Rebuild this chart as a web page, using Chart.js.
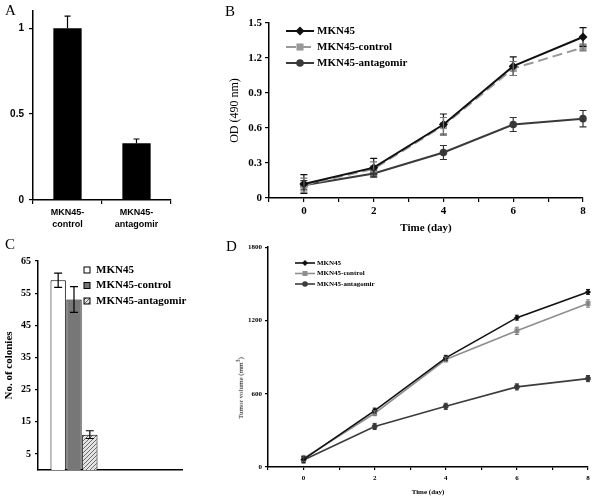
<!DOCTYPE html>
<html>
<head>
<meta charset="utf-8">
<script src="https://cdn.jsdelivr.net/npm/chart.js@4"></script>
<style>
  body { margin: 0; background: #fff; }
  #wrap { position: relative; width: 600px; height: 498px; background: #fff; }
  canvas { position: absolute; }
  .tag { position: absolute; font-family: "Liberation Serif"; font-size: 15px; color: #000; }
  #tumorTitle {
    position: absolute; left: 240px; top: 388px; font-family: "Liberation Serif"; font-size: 7px;
    transform: translate(-50%, -50%) rotate(-90deg); white-space: nowrap; color: #000;
  }
</style>
</head>
<body>
<div id="wrap">
  <canvas id="chartA" width="220" height="240" style="left:0;top:0"></canvas>
  <canvas id="chartB" width="380" height="240" style="left:220px;top:0"></canvas>
  <canvas id="chartC" width="220" height="258" style="left:0;top:240px"></canvas>
  <canvas id="chartD" width="360" height="258" style="left:240px;top:240px"></canvas>
  <div class="tag" style="left:5px;top:2px">A</div>
  <div class="tag" style="left:225px;top:3px">B</div>
  <div class="tag" style="left:5px;top:236px">C</div>
  <div class="tag" style="left:226px;top:238px">D</div>
  <div id="tumorTitle">Tumor volume (mm<sup>3</sup>)</div>
</div>
<script>
// panel A - relative expression
const exprLabels = [["MKN45-", "control"], ["MKN45-", "antagomir"]];
const exprValues = [1.0, 0.33];
const exprErrors = [0.07, 0.025];
const exprTicks = [0, 0.5, 1];

// panel B - MTT assay
const seriesNames = ["MKN45", "MKN45-control", "MKN45-antagomir"];
const days = [0, 2, 4, 6, 8];
const odMKN45 = [0.12, 0.26, 0.63, 1.13, 1.38];
const odControl = [0.11, 0.25, 0.62, 1.11, 1.29];
const odAntagomir = [0.11, 0.21, 0.39, 0.63, 0.68];
const odErrMKN45 = [0.08, 0.08, 0.09, 0.08, 0.08];
const odErrControl = [0.06, 0.06, 0.07, 0.06, 0.03];
const odErrAntagomir = [0.04, 0.03, 0.06, 0.06, 0.07];
const odTicks = [0, 0.3, 0.6, 0.9, 1.2, 1.5];

// panel C - colony formation
const colonies = [59, 53, 11];
const colonyErrors = [2.2, 4, 1.2];
const colonyTicks = [5, 15, 25, 35, 45, 55, 65];

// panel D - tumor volume
const tumorMKN45 = [62, 462, 894, 1223, 1434];
const tumorControl = [70, 440, 880, 1115, 1339];
const tumorAntagomir = [57, 332, 497, 656, 724];
const tumorErrMKN45 = [25, 20, 20, 20, 20];
const tumorErrControl = [25, 20, 20, 30, 30];
const tumorErrAntagomir = [25, 25, 25, 25, 25];
const tumorTicks = [0, 600, 1200, 1800];

Chart.defaults.font.family = "Liberation Serif";
Chart.defaults.color = "#000";

const pts = vals => days.map((d, i) => ({ x: d, y: vals[i] }));
const fixTicks = list => scale => { scale.ticks = list.map(v => ({ value: v })); };
const dayLabel = v => (v >= 0 && v % 2 === 0) ? String(v) : "";
const plainLabel = v => String(v);

function axisGrid(len) {
    return { display: true, drawOnChartArea: false, drawTicks: true, tickLength: len, color: "#000", lineWidth: 1.2 };
}
const axisBorder = { display: true, color: "#000", width: 1.5 };

function drawMarker(ctx, style, x, y, r, fill) {
    ctx.fillStyle = fill;
    ctx.beginPath();
    if (style === "rectRot") {
        ctx.moveTo(x, y - r); ctx.lineTo(x + r, y); ctx.lineTo(x, y + r); ctx.lineTo(x - r, y);
        ctx.closePath();
    } else if (style === "rect") {
        const s = r * Math.SQRT1_2;
        ctx.rect(x - s, y - s, 2 * s, 2 * s);
    } else {
        ctx.arc(x, y, r, 0, Math.PI * 2);
    }
    ctx.fill();
}

// error bars through the y scale
const errorBars = {
    id: "errorBars",
    afterDatasetsDraw(chart, args, opts) {
        const {ctx} = chart;
        const yScale = chart.scales.y;
        chart.data.datasets.forEach((ds, i) => {
            if (!ds.errors) return;
            const meta = chart.getDatasetMeta(i);
            ctx.save();
            ctx.strokeStyle = ds.errorColor || "#000";
            ctx.lineWidth = opts.width || 1.2;
            meta.data.forEach((el, j) => {
                const raw = ds.data[j];
                if (raw == null) return;
                const v = typeof raw === "object" ? raw.y : raw;
                const e = ds.errors[j];
                const top = yScale.getPixelForValue(v + e);
                const bot = opts.upOnly ? yScale.getPixelForValue(v) : yScale.getPixelForValue(v - e);
                const c = opts.cap || 3;
                ctx.beginPath();
                ctx.moveTo(el.x, top); ctx.lineTo(el.x, bot);
                ctx.moveTo(el.x - c, top); ctx.lineTo(el.x + c, top);
                if (!opts.upOnly) { ctx.moveTo(el.x - c, bot); ctx.lineTo(el.x + c, bot); }
                ctx.stroke();
            });
            ctx.restore();
        });
    }
};

// legend drawn inside the plot
const innerLegend = {
    id: "innerLegend",
    afterDraw(chart, args, opts) {
        const {ctx} = chart;
        ctx.save();
        ctx.font = "bold " + opts.size + "px 'Liberation Serif'";
        ctx.textBaseline = "middle";
        chart.data.datasets.forEach((ds, i) => {
            const y = opts.y + i * opts.dy;
            if (opts.kind === "box") {
                const s = opts.box;
                ctx.fillStyle = ds.backgroundColor;
                ctx.fillRect(opts.x, y - s / 2, s, s);
                ctx.strokeStyle = "#000";
                ctx.lineWidth = 1;
                ctx.strokeRect(opts.x, y - s / 2, s, s);
                ctx.fillStyle = "#000";
                ctx.fillText(ds.label, opts.x + s + opts.gap, y);
            } else {
                ctx.strokeStyle = ds.borderColor;
                ctx.lineWidth = ds.borderWidth;
                ctx.setLineDash(ds.borderDash || []);
                ctx.beginPath();
                ctx.moveTo(opts.x, y); ctx.lineTo(opts.x + opts.len, y);
                ctx.stroke();
                ctx.setLineDash([]);
                drawMarker(ctx, ds.pointStyle, opts.x + opts.len / 2, y, ds.pointRadius, ds.borderColor);
                ctx.fillStyle = "#000";
                ctx.fillText(ds.label, opts.x + opts.len + opts.gap, y);
            }
        });
        ctx.restore();
    }
};

function hatchPattern() {
    const c = document.createElement("canvas");
    c.width = 4; c.height = 4;
    const g = c.getContext("2d");
    g.fillStyle = "#e4e4e4";
    g.fillRect(0, 0, 4, 4);
    g.strokeStyle = "#6a6a6a";
    g.lineWidth = 1;
    g.beginPath();
    g.moveTo(0, 4); g.lineTo(4, 0);
    g.moveTo(-1, 1); g.lineTo(1, -1);
    g.moveTo(3, 5); g.lineTo(5, 3);
    g.stroke();
    return g.createPattern(c, "repeat");
}

// ---------- A
new Chart("chartA", {
    type: "bar",
    data: {
        labels: exprLabels,
        datasets: [{
            data: exprValues,
            errors: exprErrors,
            backgroundColor: "#000",
            barPercentage: 0.41,
            categoryPercentage: 1
        }]
    },
    options: {
        responsive: false,
        animation: false,
        layout: { padding: { top: 6, right: 49, left: 0, bottom: 0 } },
        plugins: {
            legend: { display: false },
            tooltip: { enabled: false },
            errorBars: { upOnly: true, cap: 3 }
        },
        scales: {
            x: {
                grid: axisGrid(4),
                border: axisBorder,
                ticks: { font: { family: "Liberation Sans", weight: "bold", size: 9, lineHeight: 1.3 }, padding: 3, maxRotation: 0 },
                afterFit: s => { s.height = 40; }
            },
            y: {
                min: 0, max: 1.1,
                grid: axisGrid(4),
                border: axisBorder,
                afterBuildTicks: fixTicks(exprTicks),
                ticks: { font: { family: "Liberation Sans", weight: "bold", size: 10 }, padding: 5, callback: plainLabel },
                afterFit: s => { s.width = 33; }
            }
        }
    },
    plugins: [errorBars]
});

// ---------- B
new Chart("chartB", {
    type: "line",
    data: {
        datasets: [
            {
                label: seriesNames[0], data: pts(odMKN45), errors: odErrMKN45, errorColor: "#111",
                borderColor: "#111", backgroundColor: "#111", borderWidth: 2,
                pointStyle: "rectRot", pointRadius: 4.5, pointBorderWidth: 0, clip: false
            },
            {
                label: seriesNames[1], data: pts(odControl), errors: odErrControl, errorColor: "#777",
                borderColor: "#999", backgroundColor: "#999", borderWidth: 2, borderDash: [10, 5],
                pointStyle: "rect", pointRadius: 5, pointBorderWidth: 0, clip: false
            },
            {
                label: seriesNames[2], data: pts(odAntagomir), errors: odErrAntagomir, errorColor: "#333",
                borderColor: "#3a3a3a", backgroundColor: "#3a3a3a", borderWidth: 2,
                pointStyle: "circle", pointRadius: 3.8, pointBorderWidth: 0, clip: false
            }
        ]
    },
    options: {
        responsive: false,
        animation: false,
        layout: { padding: { top: 23, right: 17, left: 0, bottom: 0 } },
        plugins: {
            legend: { display: false },
            tooltip: { enabled: false },
            errorBars: { cap: 3.5 },
            innerLegend: { x: 66, y: 31, dy: 16, len: 28, gap: 3, size: 11 }
        },
        scales: {
            x: {
                type: "linear", min: -1, max: 8,
                grid: axisGrid(4),
                border: axisBorder,
                ticks: { stepSize: 1, autoSkip: false, maxRotation: 0, callback: dayLabel, font: { weight: "bold", size: 11 }, padding: 3 },
                title: { display: true, text: "Time (day)", font: { weight: "bold", size: 11 }, padding: { top: 0, bottom: 5 } },
                afterFit: s => { s.height = 42; }
            },
            y: {
                min: 0, max: 1.5,
                grid: axisGrid(4),
                border: axisBorder,
                afterBuildTicks: fixTicks(odTicks),
                ticks: { font: { weight: "bold", size: 11 }, padding: 3, callback: v => v === 0 ? "0" : v.toFixed(1) },
                title: { display: true, text: "OD (490 nm)", font: { size: 12 }, padding: { top: 8, bottom: 0 } },
                afterFit: s => { s.width = 49; }
            }
        }
    },
    plugins: [errorBars, innerLegend]
});

// ---------- C
new Chart("chartC", {
    type: "bar",
    data: {
        labels: ["", ""],
        datasets: [
            {
                label: seriesNames[0], data: [colonies[0], null], errors: [colonyErrors[0], 0],
                backgroundColor: "#fff", borderColor: "#000", borderWidth: 1
            },
            {
                label: seriesNames[1], data: [colonies[1], null], errors: [colonyErrors[1], 0],
                backgroundColor: "#777", borderColor: "#000", borderWidth: 1
            },
            {
                label: seriesNames[2], data: [colonies[2], null], errors: [colonyErrors[2], 0],
                backgroundColor: hatchPattern(), borderColor: "#000", borderWidth: 1
            }
        ]
    },
    options: {
        responsive: false,
        animation: false,
        layout: { padding: { top: 21, right: 38, left: 0, bottom: 0 } },
        datasets: { bar: { barPercentage: 0.97, categoryPercentage: 0.66 } },
        plugins: {
            legend: { display: false },
            tooltip: { enabled: false },
            errorBars: { cap: 4 },
            innerLegend: { kind: "box", x: 84, y: 30, dy: 15.5, box: 6, gap: 6, size: 11 }
        },
        scales: {
            x: {
                grid: { display: false },
                border: axisBorder,
                ticks: { display: false },
                afterFit: s => { s.height = 28; }
            },
            y: {
                min: 0, max: 65,
                grid: axisGrid(3),
                border: axisBorder,
                afterBuildTicks: fixTicks(colonyTicks),
                ticks: { font: { weight: "bold", size: 10 }, padding: 4 },
                title: { display: true, text: "No. of colonies", font: { weight: "bold", size: 11 }, padding: { top: 3, bottom: 0 } },
                afterFit: s => { s.width = 38; }
            }
        }
    },
    plugins: [errorBars, innerLegend]
});

// ---------- D
new Chart("chartD", {
    type: "line",
    data: {
        datasets: [
            {
                label: seriesNames[0], data: pts(tumorMKN45), errors: tumorErrMKN45, errorColor: "#111",
                borderColor: "#111", backgroundColor: "#111", borderWidth: 1.6,
                pointStyle: "rectRot", pointRadius: 3, pointBorderWidth: 0, clip: false
            },
            {
                label: seriesNames[1], data: pts(tumorControl), errors: tumorErrControl, errorColor: "#777",
                borderColor: "#8e8e8e", backgroundColor: "#8e8e8e", borderWidth: 1.6,
                pointStyle: "rect", pointRadius: 3.5, pointBorderWidth: 0, clip: false
            },
            {
                label: seriesNames[2], data: pts(tumorAntagomir), errors: tumorErrAntagomir, errorColor: "#333",
                borderColor: "#3c3c3c", backgroundColor: "#3c3c3c", borderWidth: 1.6,
                pointStyle: "circle", pointRadius: 2.8, pointBorderWidth: 0, clip: false
            }
        ]
    },
    options: {
        responsive: false,
        animation: false,
        layout: { padding: { top: 5, right: 12, left: 0, bottom: 0 } },
        plugins: {
            legend: { display: false },
            tooltip: { enabled: false },
            errorBars: { cap: 2, width: 1 },
            innerLegend: { x: 55, y: 23, dy: 10.5, len: 20, gap: 2, size: 7 }
        },
        scales: {
            x: {
                type: "linear", min: -1, max: 8,
                grid: axisGrid(3),
                border: axisBorder,
                ticks: { stepSize: 1, autoSkip: false, maxRotation: 0, callback: dayLabel, font: { weight: "bold", size: 7 }, padding: 4 },
                title: { display: true, text: "Time (day)", font: { weight: "bold", size: 7 }, padding: { top: 0, bottom: 2 } },
                afterFit: s => { s.height = 31; }
            },
            y: {
                min: 0, max: 1800,
                grid: axisGrid(3),
                border: axisBorder,
                afterBuildTicks: fixTicks(tumorTicks),
                ticks: { font: { weight: "bold", size: 7 }, padding: 3, callback: plainLabel },
                afterFit: s => { s.width = 28; }
            }
        }
    },
    plugins: [errorBars, innerLegend]
});
</script>
</body>
</html>
